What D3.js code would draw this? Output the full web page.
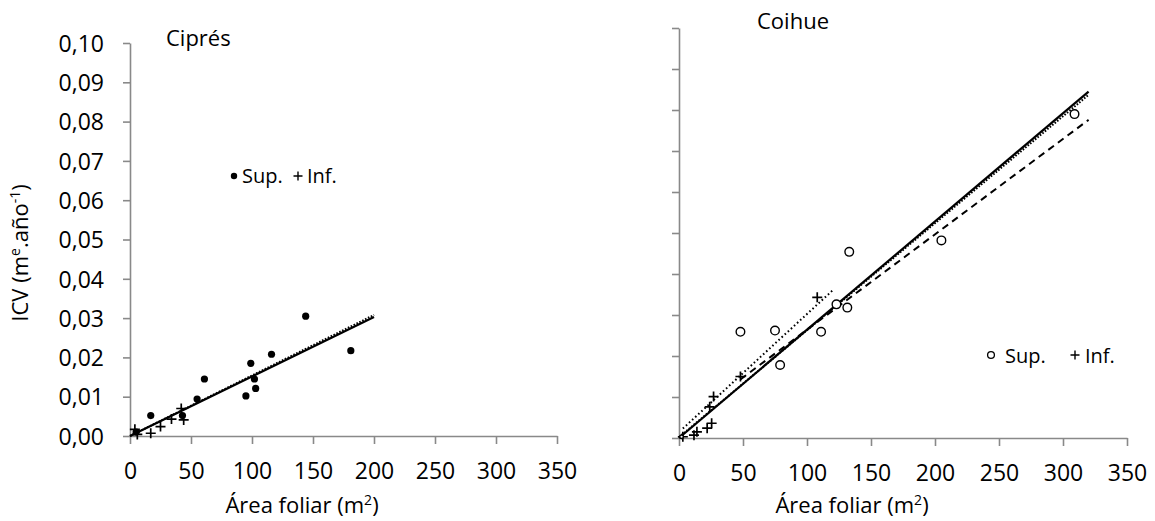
<!DOCTYPE html>
<html>
<head>
<meta charset="utf-8">
<script src="https://cdn.jsdelivr.net/npm/d3@7"></script>
<style>
  body { margin: 0; background: #fff; }
  text { font-family: "Open Sans", sans-serif; fill: #000; }
</style>
</head>
<body>
<script>
// tick values
const xTicks = [0, 50, 100, 150, 200, 250, 300, 350];
const yTicks = [0, 0.01, 0.02, 0.03, 0.04, 0.05, 0.06, 0.07, 0.08, 0.09, 0.10];

// Ciprés: [área foliar, ICV]
const cipresSup = [[5, 0.001], [17, 0.0052], [43, 0.0052], [55, 0.0094], [61, 0.0145], [95, 0.0102],
                   [99, 0.0185], [102, 0.0145], [103, 0.0121], [116, 0.0208], [144, 0.0305], [181, 0.0217]];
const cipresInf = [[4, 0.0017], [6, 0.0004], [17, 0.0007], [25, 0.0024], [34, 0.0043], [42, 0.007], [44, 0.0041]];
const cipresTrendSolid = [[0, 0], [200, 0.0303]];
const cipresTrendDotted = [[0, 0], [200, 0.0308]];

// Coihue
const coihueSup = [[2, 0.0003], [48, 0.0259], [75, 0.0262], [79, 0.0178], [111, 0.0259], [123, 0.0326],
                   [131.5, 0.0318], [133, 0.0454], [205, 0.0482], [309, 0.079]];
const coihueInf = [[3, 0.0003], [11.7, 0.0007], [14, 0.0015], [22, 0.0024], [25.5, 0.0036], [24, 0.0076],
                   [27, 0.0101], [48, 0.015], [108, 0.0343]];
const coihueTrendSolid = [[0, 0], [320, 0.0845]];
const coihueTrendDotted = [[0, 0.0002], [320, 0.0837]];
const coihueTrendDashed = [[48, 0.0143], [320, 0.0776]];
const coihueTrendInf = [[3, 0.0023], [120, 0.036]];

const W = 1155, H = 521;
const axisColor = '#898989';
const fmt = d3.formatLocale({decimal: ',', thousands: '.', grouping: [3], currency: ['', '']}).format('.2f');

const svg = d3.select('body').append('svg')
              .attr('width', W)
              .attr('height', H);

function panel(opt) {
  const x = d3.scaleLinear().domain([0, 350]).range(opt.xr);
  const y = d3.scaleLinear().domain([0, 0.10]).range(opt.yr);
  const g = svg.append('g');

  const yAxis = d3.axisLeft(y)
                  .tickValues(yTicks)
                  .tickSize(7)
                  .tickSizeOuter(0)
                  .tickPadding(19)
                  .tickFormat(opt.yLabels ? fmt : '');
  const xAxis = d3.axisBottom(x)
                  .tickValues(xTicks)
                  .tickSize(8)
                  .tickSizeOuter(0)
                  .tickPadding(18)
                  .tickFormat(d3.format('d'));

  const ya = g.append('g').attr('transform', `translate(${opt.xr[0]},0)`).call(yAxis);
  const xa = g.append('g').attr('transform', `translate(0,${opt.yr[0]})`).call(xAxis);
  [ya, xa].forEach(a => {
    a.selectAll('path, line').attr('stroke', axisColor).attr('stroke-width', 1.6);
    a.selectAll('text').attr('font-size', 23).attr('font-family', '"Open Sans", sans-serif').attr('fill', '#000');
  });
  ya.selectAll('text').attr('dy', '0.36em');
  xa.selectAll('text').attr('dy', '0.72em');

  const line = d3.line().x(d => x(d[0])).y(d => y(d[1]));
  opt.trends.forEach(t => {
    g.append('path')
     .attr('d', line(t.data))
     .attr('fill', 'none')
     .attr('stroke', '#000')
     .attr('stroke-width', t.w || 2.2)
     .attr('stroke-dasharray', t.dash || null);
  });

  return {g, x, y};
}

function plus(sel, s) {
  return sel.append('path')
            .attr('d', `M${-s},0H${s}M0,${-s}V${s}`)
            .attr('stroke', '#000')
            .attr('stroke-width', 1.7)
            .attr('fill', 'none');
}

// ---- Ciprés ----
const left = panel({
  xr: [130, 557], yr: [436, 43], yLabels: true,
  trends: [
    {data: cipresTrendDotted, dash: '1.6,1.6', w: 2},
    {data: cipresTrendSolid}
  ]
});
left.g.selectAll('.inf').data(cipresInf).enter()
  .append('g').attr('transform', d => `translate(${left.x(d[0])},${left.y(d[1])})`)
  .each(function () { plus(d3.select(this), 5); });
left.g.selectAll('.sup').data(cipresSup).enter()
  .append('circle')
  .attr('cx', d => left.x(d[0]))
  .attr('cy', d => left.y(d[1]))
  .attr('r', 3.6)
  .attr('fill', '#000');

svg.append('text').attr('x', 166).attr('y', 46).attr('font-size', 22).text('Ciprés');
svg.append('circle').attr('cx', 234).attr('cy', 176).attr('r', 3.2).attr('fill', '#000');
svg.append('text').attr('x', 242).attr('y', 183).attr('font-size', 20).text('Sup.');
plus(svg.append('g').attr('transform', 'translate(298,176)'), 4.5).attr('stroke-width', 1.4);
svg.append('text').attr('x', 307).attr('y', 183).attr('font-size', 20).text('Inf.');

// ---- Coihue ----
const right = panel({
  xr: [679, 1127], yr: [438, 28], yLabels: false,
  trends: [
    {data: coihueTrendInf, dash: '1.6,2.6', w: 2},
    {data: coihueTrendDotted, dash: '1.6,1.6', w: 2},
    {data: coihueTrendDashed, dash: '7,5', w: 2},
    {data: coihueTrendSolid}
  ]
});
right.g.selectAll('.inf').data(coihueInf).enter()
  .append('g').attr('transform', d => `translate(${right.x(d[0])},${right.y(d[1])})`)
  .each(function () { plus(d3.select(this), 5); });
right.g.selectAll('.sup').data(coihueSup).enter()
  .append('circle')
  .attr('cx', d => right.x(d[0]))
  .attr('cy', d => right.y(d[1]))
  .attr('r', d => d[0] < 5 ? 1.8 : 4.3)
  .attr('fill', '#fff')
  .attr('stroke', '#000')
  .attr('stroke-width', 1.4);

svg.append('text').attr('x', 757).attr('y', 29).attr('font-size', 22).text('Coihue');
svg.append('circle').attr('cx', 991).attr('cy', 355).attr('r', 3.4)
   .attr('fill', '#fff').attr('stroke', '#000').attr('stroke-width', 1.3);
svg.append('text').attr('x', 1005).attr('y', 363).attr('font-size', 20).text('Sup.');
plus(svg.append('g').attr('transform', 'translate(1075,355)'), 4.5).attr('stroke-width', 1.4);
svg.append('text').attr('x', 1085).attr('y', 363).attr('font-size', 20).text('Inf.');

// ---- axis titles ----
function xTitle(cx) {
  const t = svg.append('text').attr('x', cx).attr('y', 513)
               .attr('text-anchor', 'middle').attr('font-size', 22);
  t.append('tspan').text('Área foliar (m');
  t.append('tspan').attr('font-size', 14).attr('dy', -8).text('2');
  t.append('tspan').attr('dy', 8).text(')');
}
xTitle(302);
xTitle(852);

const yt = svg.append('text')
              .attr('transform', 'translate(28,253) rotate(-90)')
              .attr('text-anchor', 'middle')
              .attr('font-size', 22);
yt.append('tspan').text('ICV (m');
yt.append('tspan').attr('font-size', 14).attr('dy', -8).text('e');
yt.append('tspan').attr('dy', 8).text('.año');
yt.append('tspan').attr('font-size', 14).attr('dy', -8).text('-1');
yt.append('tspan').attr('dy', 8).text(')');
</script>
</body>
</html>
